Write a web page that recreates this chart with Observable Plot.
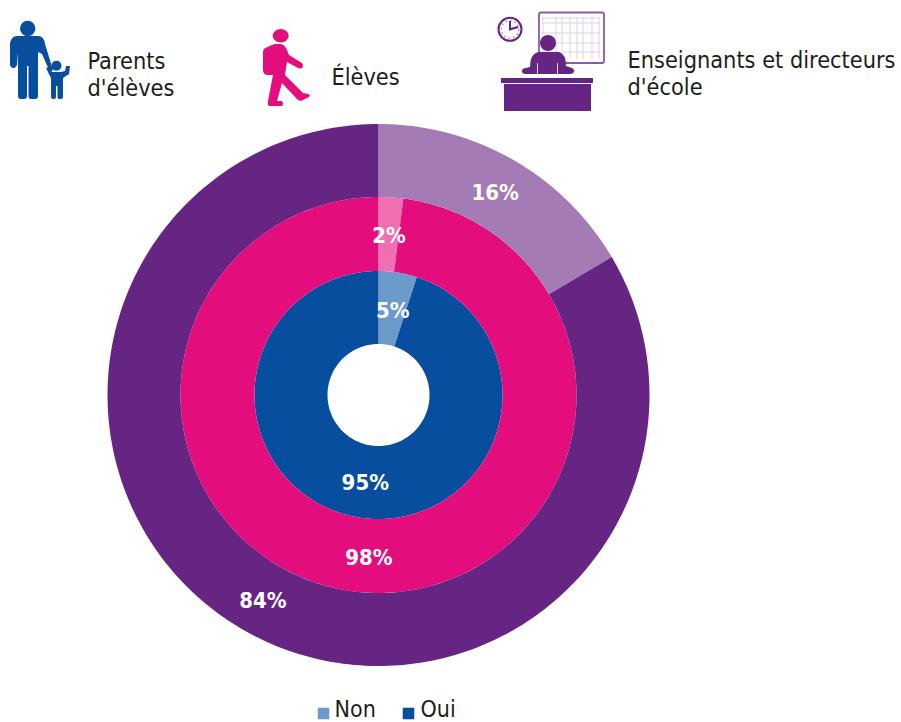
<!DOCTYPE html>
<html lang="fr">
<head>
<meta charset="utf-8">
<script src="https://cdn.jsdelivr.net/npm/d3@7"></script>
<script src="https://cdn.jsdelivr.net/npm/@observablehq/plot@0.6"></script>
<style>
html,body{margin:0;padding:0;background:#fff}
#chart{position:relative;width:901px;height:722px;overflow:hidden}
#chart svg{display:block;position:absolute;left:0;top:0;overflow:hidden}
</style>
</head>
<body>
<div id="chart"></div>
<script>
// Data
const groups = ["Parents d'élèves", "Élèves", "Enseignants et directeurs d'école"];
const answers = ["Non", "Oui"];
const nonValues = [5, 2, 16.5];
const ouiValues = [95, 98, 83.5];
const nonLabels = ["5%", "2%", "16%"];
const ouiLabels = ["95%", "98%", "84%"];

// Style
const colorsNon = ["#6c9ac9", "#f06fb1", "#a47bb5"];
const colorsOui = ["#074e9f", "#e30d7d", "#662483"];
const legendColors = ["#6c9ac9", "#074e9f"];
const innerRadii = [51, 124, 198];
const outerRadii = [124, 198, 271];
const FONT = "'DejaVu Sans Condensed', 'DejaVu Sans', sans-serif";

// Sample each slice's outline from its percentage
function sliceRows(groupIndex, answer, start, value, fill) {
  const a0 = start / 100 * 2 * Math.PI, a1 = (start + value) / 100 * 2 * Math.PI;
  const n = Math.max(2, Math.ceil(value * 3));
  const r0 = innerRadii[groupIndex], r1 = outerRadii[groupIndex];
  return d3.range(n + 1).map(i => {
    const a = a0 + (a1 - a0) * i / n;
    return {key: groupIndex + answer, fill,
      x1: r0 * Math.sin(a), y1: r0 * Math.cos(a),
      x2: r1 * Math.sin(a), y2: r1 * Math.cos(a)};
  });
}
const arcRows = groups.flatMap((g, i) => [
  ...sliceRows(i, "Non", 0, nonValues[i], colorsNon[i]),
  ...sliceRows(i, "Oui", nonValues[i], ouiValues[i], colorsOui[i])
]);
const labelRows = groups.flatMap((g, i) => {
  const r = (innerRadii[i] + outerRadii[i]) / 2;
  const aN = nonValues[i] / 200 * 2 * Math.PI;
  const aO = (nonValues[i] + ouiValues[i] / 2) / 100 * 2 * Math.PI;
  return [
    {x: r * Math.sin(aN), y: r * Math.cos(aN), t: nonLabels[i]},
    {x: r * Math.sin(aO), y: r * Math.cos(aO), t: ouiLabels[i]}
  ];
});

const header = (text, dx, dy) => Plot.text([text], {
  frameAnchor: "top-left", dx, dy, text: d => d, textAnchor: "start", lineAnchor: "middle",
  fontFamily: FONT, fontSize: 23.3, fill: "#1d1d1b"
});

const svg = Plot.plot({
  width: 901, height: 722,
  margin: 0,
  style: {background: "#fff"},
  x: {domain: [-378.5, 522.5], range: [0, 901], axis: null},
  y: {domain: [-327, 395], range: [722, 0], axis: null},
  marks: [
    Plot.area(arcRows, {x1: "x1", y1: "y1", x2: "x2", y2: "y2", z: "key", fill: "fill", curve: "linear"}),
    Plot.text(labelRows, {x: "x", y: "y", dy: 1.5, text: "t", fill: "#fff", fontFamily: FONT, fontSize: 22, fontWeight: 700}),
    header("Parents", 87, 61),
    header("d'élèves", 87, 88),
    header("Élèves", 331, 77.5),
    header("Enseignants et directeurs", 627, 60.5),
    header("d'école", 627, 87.5),
    Plot.dot([answers[0]], {frameAnchor: "top-left", dx: 323, dy: 713, symbol: "square", r: 6.5, fill: legendColors[0]}),
    Plot.dot([answers[1]], {frameAnchor: "top-left", dx: 408, dy: 713, symbol: "square", r: 6.5, fill: legendColors[1]}),
    Plot.text([answers[0]], {frameAnchor: "top-left", dx: 334, dy: 709.5, text: d => d, textAnchor: "start", lineAnchor: "middle", fontFamily: FONT, fontSize: 23, fill: "#1d1d1b"}),
    Plot.text([answers[1]], {frameAnchor: "top-left", dx: 420, dy: 709.5, text: d => d, textAnchor: "start", lineAnchor: "middle", fontFamily: FONT, fontSize: 23, fill: "#1d1d1b"})
  ]
});
document.getElementById("chart").appendChild(svg);

// Pictograms
const icons = d3.select(svg).append("g").attr("class", "pictograms");
const blue = colorsOui[0], pink = colorsOui[1], purple = colorsOui[2];
// Parent and child
icons.append("circle").attr("cx", 27.7).attr("cy", 28.5).attr("r", 7.7).attr("fill", blue);
icons.append("path").attr("fill", blue).attr("d",
  "M17 36 H38 Q44 36 45 44 L53 70 L50 72 L42 54 L38 52 V96 Q38 99 35 99 H31 Q28.5 99 28.5 96 V66 H27 V96 Q27 99 24 99 H21 Q18 99 18 96 V52 L17 65 Q15 69 13 68 Q10 67 10 64 V44 Q11 36 17 36 Z");
icons.append("circle").attr("cx", 56.5).attr("cy", 65.7).attr("r", 5).attr("fill", blue);
icons.append("path").attr("fill", blue).attr("d",
  "M46 68 L49 67 L52 72 H61 L65 71 L66 66 H70 L69 74 L63 78 V97 Q63 99 61 99 H59 Q57.5 99 57.5 97 V86 H56 V97 Q56 99 54 99 H53 Q51 99 51 97 V78 Z");
// Student
icons.append("ellipse").attr("cx", 280.7).attr("cy", 35.7).attr("rx", 8).attr("ry", 6.7).attr("fill", pink);
icons.append("path").attr("fill", pink).attr("d",
  "M268 47 Q271 45 275 44 H281 Q285 45 287 50 L289 55 L302 63 Q304 66 302 68 Q300 69 298 68 L287 62 L285 75 L303 93 L308 94 Q311 95 309 97 L301 101 Q298 101 296 98 L282 83 L277 101 H282 Q284 104 282 106 H270 Q267 106 268 101 L273 75 H268 Q263 75 263 70 V52 Q263 48 268 47 Z");
// Teacher
icons.append("circle").attr("cx", 510).attr("cy", 29.3).attr("r", 11.5).attr("fill", "#fff").attr("stroke", purple).attr("stroke-width", 2);
icons.append("circle").attr("cx", 510).attr("cy", 29.3).attr("r", 8.8).attr("fill", "none").attr("stroke", "#a47bb5").attr("stroke-width", 1.4).attr("stroke-dasharray", "1.4 3.2");
icons.append("path").attr("fill", "none").attr("stroke", purple).attr("stroke-width", 2).attr("d", "M510 21 V29.3 L518 27");
icons.append("rect").attr("x", 539).attr("y", 12.5).attr("width", 65).attr("height", 50.5).attr("rx", 2).attr("fill", "#fff").attr("stroke", "#8b5aa3").attr("stroke-width", 1.8);
const grid = icons.append("g").attr("stroke", "#ddd2e3").attr("stroke-width", 1).attr("fill", "none");
[543, 556, 562, 570, 577, 583, 592, 599].forEach(x => grid.append("line").attr("x1", x).attr("x2", x).attr("y1", 17).attr("y2", 59));
[18, 23, 33, 43, 52].forEach(y => grid.append("line").attr("x1", 542).attr("x2", 600).attr("y1", y).attr("y2", y));
icons.append("circle").attr("cx", 548).attr("cy", 43).attr("r", 8).attr("fill", purple);
icons.append("path").attr("fill", purple).attr("d",
  "M538 52 H559 Q566 54 566 66 L572 68 Q575 70 574 72 Q573 74 570 74 H525 Q521 73 522 70 Q523 68 526 68 L530 67 Q530 54 538 52 Z");
icons.append("path").attr("stroke", "#fff").attr("stroke-width", 0.8).attr("fill", "none").attr("d", "M537.5 63 V74 M557.5 63 V74");
icons.append("rect").attr("x", 501).attr("y", 78).attr("width", 92).attr("height", 5).attr("fill", purple);
icons.append("rect").attr("x", 504).attr("y", 84).attr("width", 87).attr("height", 27).attr("fill", purple);
</script>
</body>
</html>
